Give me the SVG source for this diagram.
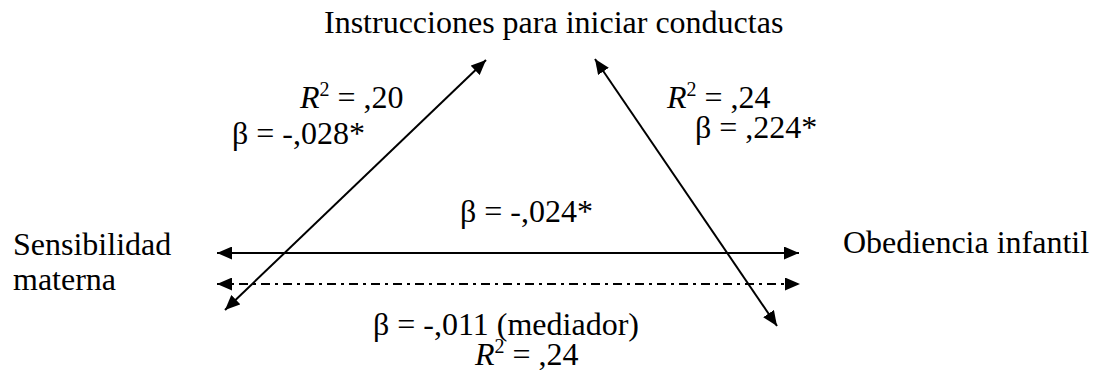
<svg xmlns="http://www.w3.org/2000/svg" width="1094" height="370" viewBox="0 0 1094 370">
<style>
text{font-family:"Liberation Serif","Times New Roman",serif;font-size:32px;fill:#000}
.sup{font-size:20px}
.it{font-style:italic}
.ln{stroke:#000;stroke-width:2;fill:none}
.dd{stroke-dasharray:9 5 3 5}
</style>
<defs>
<marker id="ah" viewBox="0 0 15 13" refX="15" refY="6.5" markerWidth="15" markerHeight="13" markerUnits="userSpaceOnUse" orient="auto-start-reverse">
<path d="M0,0 L15,6.5 L0,13 Z" fill="#000"/>
</marker>
</defs>
<rect width="1094" height="370" fill="#fff"/>
<g id="connectors">
<line class="ln" x1="217" y1="253" x2="799" y2="253" marker-start="url(#ah)" marker-end="url(#ah)"/>
<line class="ln dd" x1="217" y1="284" x2="800" y2="284" marker-start="url(#ah)" marker-end="url(#ah)"/>
<line class="ln" x1="225" y1="310" x2="486" y2="60" marker-start="url(#ah)" marker-end="url(#ah)"/>
<line class="ln" x1="595" y1="59" x2="777" y2="326" marker-start="url(#ah)" marker-end="url(#ah)"/>
</g>
<g id="node-instrucciones"><text x="324" y="33">Instrucciones para iniciar conductas</text></g>
<g id="node-sensibilidad"><text x="13" y="255">Sensibilidad</text><text x="13" y="290">materna</text></g>
<g id="node-obediencia"><text x="843" y="253">Obediencia infantil</text></g>
<g id="labels">
<text x="300" y="108"><tspan class="it">R</tspan><tspan class="sup" dy="-12">2</tspan><tspan dy="12"> = ,20</tspan></text>
<text x="232" y="144">β = -,028*</text>
<text x="667" y="108"><tspan class="it">R</tspan><tspan class="sup" dy="-12">2</tspan><tspan dy="12"> = ,24</tspan></text>
<text x="695" y="138">β = ,224*</text>
<text x="460" y="222">β = -,024*</text>
<text x="373" y="335">β = -,011 (mediador)</text>
<text x="475" y="365"><tspan class="it">R</tspan><tspan class="sup" dy="-12">2</tspan><tspan dy="12"> = ,24</tspan></text>
</g>
</svg>
